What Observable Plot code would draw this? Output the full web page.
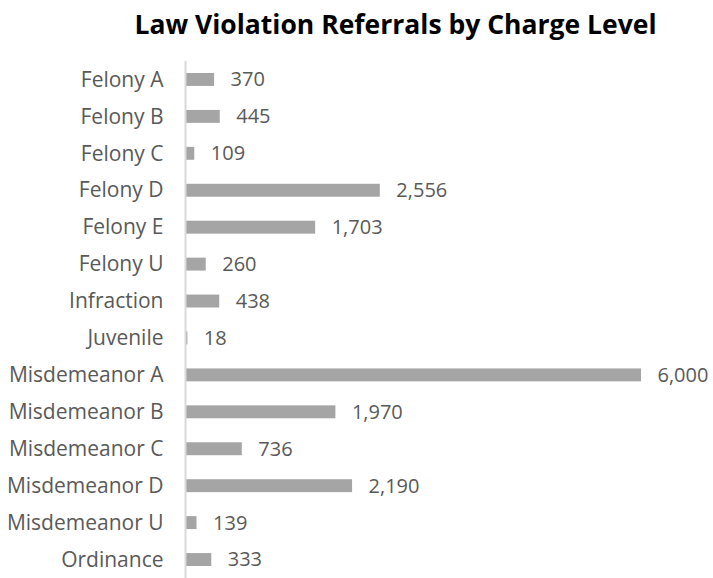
<!DOCTYPE html>
<html><head><meta charset="utf-8">
<script src="https://cdn.jsdelivr.net/npm/d3@7"></script>
<script src="https://cdn.jsdelivr.net/npm/@observablehq/plot@0.6"></script>
<style>
body{margin:0;background:#fff;}
#title{position:relative;height:52px;width:713px;font-family:"Open Sans",sans-serif;font-weight:bold;font-size:26.5px;color:#000;}
#title span{position:absolute;left:395.5px;top:6px;transform:translateX(-50%);white-space:nowrap;line-height:36px;}
svg{display:block;}
</style></head>
<body>
<div id="title"><span>Law Violation Referrals by Charge Level</span></div>
<div id="chart"></div>
<script>
const categories = ["Felony A","Felony B","Felony C","Felony D","Felony E","Felony U","Infraction","Juvenile","Misdemeanor A","Misdemeanor B","Misdemeanor C","Misdemeanor D","Misdemeanor U","Ordinance"];
const values = [370,445,109,2556,1703,260,438,18,6000,1970,736,2190,139,333];
const data = categories.map((c,i)=>({category:c, value:values[i]}));
const fmt = d3.format(",");
const chart = Plot.plot({
  width:713, height:526,
  marginTop:9, marginBottom:0, marginLeft:186, marginRight:72,
  style:{fontFamily:"'Open Sans', sans-serif", fontSize:"21px", color:"#595959", background:"#fff"},
  x:{domain:[0,6000], axis:null},
  y:{domain:categories, paddingInner:0.65, paddingOuter:0.325, round:false, label:null, tickSize:0, tickPadding:23},
  marks:[
    Plot.barX(data,{y:"category", x:"value", fill:"#a5a5a5"}),
    Plot.ruleX([0],{stroke:"#d9d9d9", strokeWidth:2, dx:-1}),
    Plot.text(data,{y:"category", x:"value", text:d=>fmt(d.value), textAnchor:"start", dx:16, fill:"#595959", fontSize:20})
  ]
});
document.getElementById("chart").appendChild(chart);
</script>
</body></html>
